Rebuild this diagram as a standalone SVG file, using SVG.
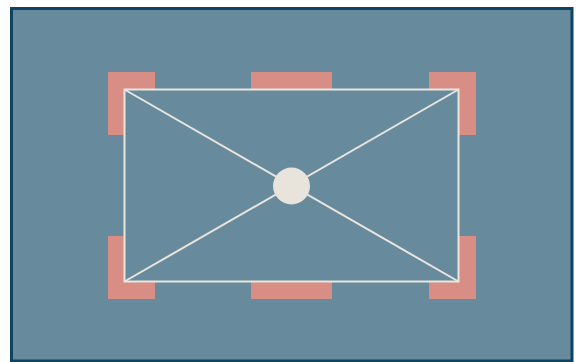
<svg xmlns="http://www.w3.org/2000/svg" width="576" height="362" viewBox="0 0 576 362">
<style>
.pad{fill:#d98e85}
.line{stroke:#e9e6df;stroke-width:2;fill:none}
</style>
<rect width="576" height="362" fill="#ffffff"/>
<rect id="frame" x="11.5" y="8.5" width="560.5" height="352.5" fill="#678a9c" stroke="#0e4461" stroke-width="3"/>
<g id="pads">
<rect class="pad" x="108" y="72" width="47" height="63"/>
<rect class="pad" x="429" y="72" width="47" height="63"/>
<rect class="pad" x="108" y="236" width="47" height="63"/>
<rect class="pad" x="429" y="236" width="47" height="63"/>
<rect class="pad" x="251" y="72" width="81" height="18"/>
<rect class="pad" x="251" y="281" width="81" height="18"/>
</g>
<g id="table">
<rect x="124.5" y="89.5" width="334" height="192" fill="#678a9c" stroke="#e9e6df" stroke-width="2"/>
</g>
<g id="connectors">
<line class="line" x1="124.5" y1="89.5" x2="458.5" y2="281.5"/>
<line class="line" x1="458.5" y1="89.5" x2="124.5" y2="281.5"/>
</g>
<g id="center">
<circle cx="291.5" cy="186" r="18.5" fill="#e8e4dc"/>
</g>
</svg>
